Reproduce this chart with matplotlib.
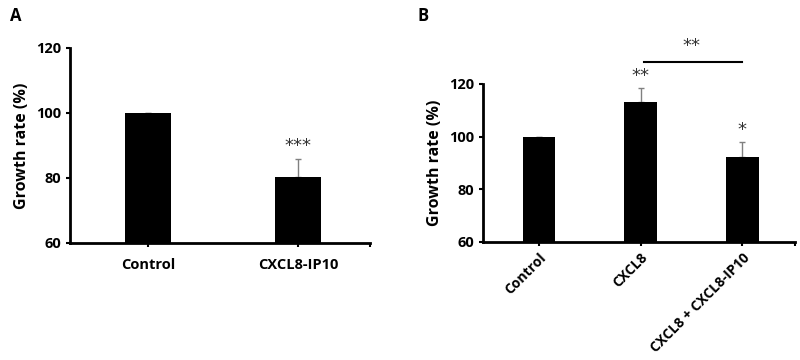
import numpy as np
import matplotlib.pyplot as plt

plt.rcParams['font.family'] = ['Open Sans', 'DejaVu Sans']

# panel A
groups_a = ['Control', 'CXCL8-IP10']
rate_a = [100, 80.2]
err_a = [0, 5.7]
stars_a = ['', '***']

# panel B
groups_b = ['Control', 'CXCL8', 'CXCL8 + CXCL8-IP10']
rate_b = [100, 113.2, 92.3]
err_b = [0, 5.2, 5.5]
stars_b = ['', '**', '*']

fig = plt.figure(figsize=(8, 3.6), dpi=100)
ax1 = fig.add_axes([0.0875, 0.325, 0.375, 0.542])
ax2 = fig.add_axes([0.604, 0.328, 0.39, 0.439])


def style(ax, n, lo, hi):
    for s in ['top', 'right']:
        ax.spines[s].set_visible(False)
    for s in ['left', 'bottom']:
        ax.spines[s].set_linewidth(2)
    ax.set_ylim(60, 120)
    ax.set_yticks([60, 80, 100, 120])
    ax.set_xlim(lo, hi)
    ax.set_xticks(range(n))
    ax.set_xticks([hi], minor=True)
    ax.tick_params(axis='both', which='both', direction='out', length=3, width=1.5, labelsize=10.5)
    ax.tick_params(axis='x', which='major', pad=8)
    for t in ax.get_yticklabels():
        t.set_fontweight('bold')
    ax.set_ylabel('Growth rate (%)', fontsize=11.5, fontweight='bold')


x = np.arange(len(groups_a))
ax1.bar(x, rate_a, width=0.31, color='black', zorder=2)
ax1.errorbar(x, rate_a, yerr=[np.zeros(len(x)), err_a], fmt='none', ecolor='#808080',
             elinewidth=1, capsize=2.5, zorder=1)
style(ax1, len(groups_a), -0.52, 1.48)
ax1.set_xticklabels(groups_a, fontweight='bold')
for i, s in enumerate(stars_a):
    if s:
        ax1.text(i, rate_a[i] + err_a[i] + 1.2, s, ha='center', va='bottom', fontsize=13,
                 color='#333333', family='DejaVu Sans')

x = np.arange(len(groups_b))
ax2.bar(x, rate_b, width=0.32, color='black', zorder=2)
ax2.errorbar(x, rate_b, yerr=[np.zeros(len(x)), err_b], fmt='none', ecolor='#808080',
             elinewidth=1, capsize=2.5, zorder=1)
style(ax2, len(groups_b), -0.55, 2.52)
ax2.tick_params(axis='x', which='major', pad=3)
ax2.set_xticklabels(groups_b, fontweight='bold', fontsize=10, rotation=45, ha='right',
                    rotation_mode='anchor')
for i, s in enumerate(stars_b):
    if s:
        ax2.text(i, rate_b[i] + err_b[i] + 1.2, s, ha='center', va='bottom', fontsize=13,
                 color='#333333', clip_on=False, family='DejaVu Sans')
ax2.plot([1.03, 2.0], [128.4, 128.4], color='black', lw=1.5, clip_on=False)
ax2.text(1.5, 131, '**', ha='center', va='bottom', fontsize=13, color='#333333',
         family='DejaVu Sans')

fig.text(0.012, 0.955, 'A', fontsize=12, fontweight='bold', va='center')
fig.text(0.522, 0.955, 'B', fontsize=12, fontweight='bold', va='center')

plt.savefig('out.png')
